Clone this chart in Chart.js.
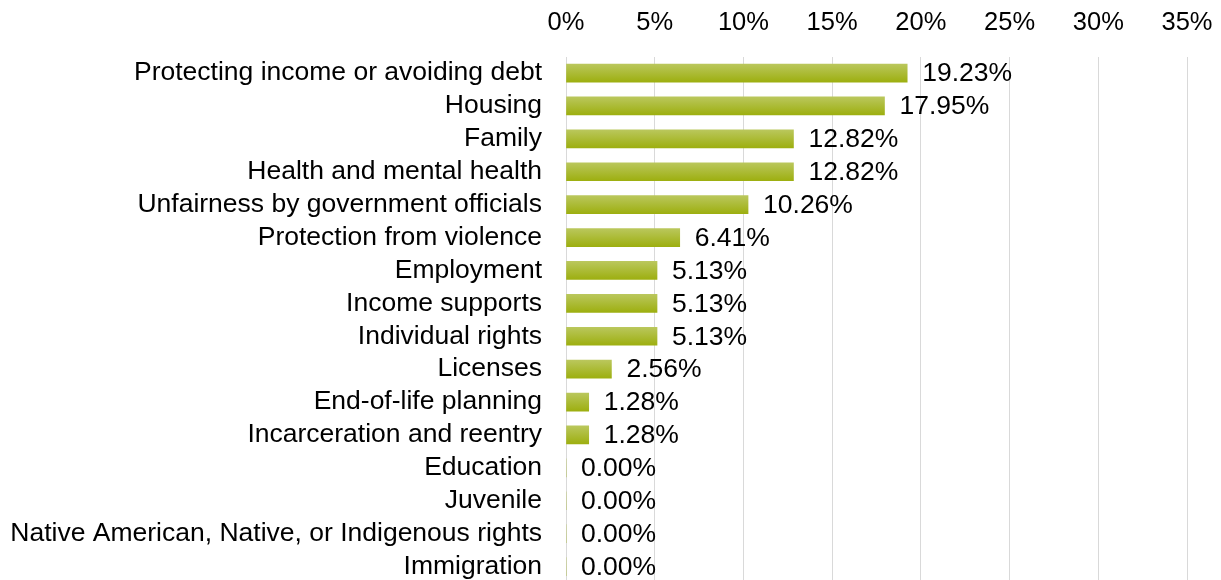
<!DOCTYPE html>
<html>
<head>
<meta charset="utf-8">
<script src="https://cdn.jsdelivr.net/npm/chart.js@4/dist/chart.umd.min.js"></script>
<style>
  html, body { margin: 0; padding: 0; background: #fff; overflow: hidden; }
  #wrap { position: relative; width: 1221px; height: 583px; }
</style>
</head>
<body>
<div id="wrap"><canvas id="issues_chart"></canvas></div>
<script>
// problem areas and share of responses (%)
var categories = [
    'Protecting income or avoiding debt',
    'Housing',
    'Family',
    'Health and mental health',
    'Unfairness by government officials',
    'Protection from violence',
    'Employment',
    'Income supports',
    'Individual rights',
    'Licenses',
    'End-of-life planning',
    'Incarceration and reentry',
    'Education',
    'Juvenile',
    'Native American, Native, or Indigenous rights',
    'Immigration'
];
var shares = [19.23, 17.95, 12.82, 12.82, 10.26, 6.41, 5.13, 5.13, 5.13, 2.56, 1.28, 1.28, 0, 0, 0, 0];

// axis range and tick step (%)
var axisMax = 35;
var axisStep = 5;

var FONT = '"Liberation Sans", Arial, sans-serif';

// value labels written just past the end of each bar
var valueLabels = {
    id: 'valueLabels',
    afterDatasetsDraw: function(chart) {
        var ctx = chart.ctx;
        var meta = chart.getDatasetMeta(0);
        ctx.save();
        ctx.font = '26.5px ' + FONT;
        ctx.fillStyle = '#000';
        ctx.textAlign = 'left';
        ctx.textBaseline = 'middle';
        meta.data.forEach(function(bar, i) {
            ctx.fillText(shares[i].toFixed(2) + '%', bar.x + 15, bar.y + 1);
        });
        ctx.restore();
    }
};

var ctx = document.getElementById('issues_chart').getContext('2d');
var chart = new Chart(ctx, {
    type: 'bar',
    data: {
        labels: categories,
        datasets: [{
            data: shares,
            barThickness: 18,
            // light-to-dark olive gradient on every bar
            backgroundColor: function(c) {
                var ch = c.chart;
                var y = ch.scales && ch.scales.y;
                if (!y || c.dataIndex === undefined) return '#abba2f';
                var cy = y.getPixelForValue(c.dataIndex);
                if (!isFinite(cy)) return '#abba2f';
                var g = ch.ctx.createLinearGradient(0, cy - 9, 0, cy + 9);
                g.addColorStop(0, '#bac75c');
                g.addColorStop(1, '#9daf10');
                return g;
            },
            borderWidth: 0
        }]
    },
    options: {
        indexAxis: 'y',
        responsive: true,
        maintainAspectRatio: false,
        animation: false,
        events: [],
        layout: { padding: { top: 0, right: 34, bottom: 0, left: 0 } },
        plugins: {
            legend: { display: false },
            tooltip: { enabled: false }
        },
        scales: {
            x: {
                position: 'top',
                min: 0,
                max: axisMax,
                afterFit: function(scale) {
                    scale.height = 56.6;
                    scale.paddingLeft = 0;
                    scale.paddingRight = 0;
                },
                grid: { color: '#d9d9d9', lineWidth: 1, drawTicks: false },
                border: { display: false },
                ticks: {
                    stepSize: axisStep,
                    padding: 18,
                    color: '#000',
                    font: { family: FONT, size: 25.5 },
                    callback: function(v) { return v + '%'; }
                }
            },
            y: {
                afterFit: function(scale) {
                    scale.width = 566;
                    scale.paddingTop = 0;
                    scale.paddingBottom = 0;
                },
                grid: { display: false, drawTicks: false },
                border: { display: false },
                ticks: {
                    padding: 24,
                    autoSkip: false,
                    color: '#000',
                    font: { family: FONT, size: 26.5 }
                }
            }
        }
    },
    plugins: [valueLabels]
});
</script>
</body>
</html>
